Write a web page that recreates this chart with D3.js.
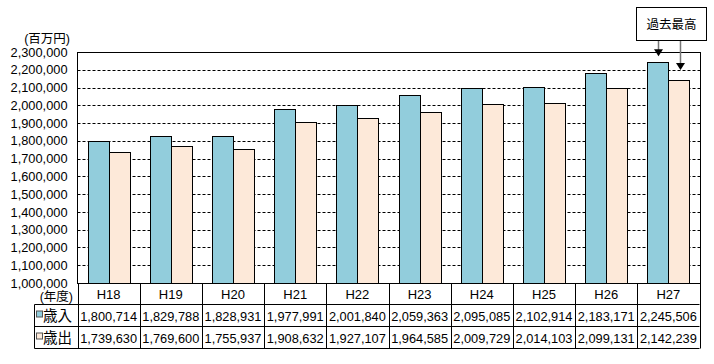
<!DOCTYPE html>
<html><head><meta charset="utf-8">
<script src="https://cdn.jsdelivr.net/npm/d3@7"></script>
<style>
html,body{margin:0;padding:0;background:#fff;}
svg{display:block;}
text{font-family:"Liberation Sans","Noto Sans CJK JP",sans-serif;font-size:12.5px;fill:#000;}
</style></head>
<body><svg id="chart" width="714" height="364"></svg>
<script>
const years = ["H18","H19","H20","H21","H22","H23","H24","H25","H26","H27"];
const revenue = [1800714,1829788,1828931,1977991,2001840,2059363,2095085,2102914,2183171,2245506];
const expenditure = [1739630,1769600,1755937,1908632,1927107,1964585,2009729,2014103,2099131,2142239];
const seriesNames = ["歳入","歳出"];
const seriesColors = ["#92CDDC","#FDE9D9"];
const yTicks = d3.range(1000000, 2300001, 100000);
const unitLabel = "(百万円)";
const yearLabel = "(年度)";
const calloutText = "過去最高";

const svg = d3.select("#chart");
const x = d3.scaleBand().domain(years).range([77.5, 699.5]);
const xs = d3.scaleBand().domain([0,1]).range([10, 52]);
const y = d3.scaleLinear().domain([1000000, 2300000]).range([283, 52]);
const fmt = d3.format(",");
const series = [revenue, expenditure];

// gridlines
svg.append("g").selectAll("line").data(yTicks.filter(t => t > 1000000 && t < 2300000)).join("line")
  .attr("x1", 77.5).attr("x2", 700.5)
  .attr("y1", d => Math.round(y(d)) + 0.5).attr("y2", d => Math.round(y(d)) + 0.5)
  .attr("stroke", "#000").attr("stroke-dasharray", "3,2");

// bars
series.forEach((vals, si) => {
  svg.append("g").selectAll("rect").data(vals).join("rect")
    .attr("x", (d, i) => Math.round(x(years[i]) + xs(si)) + 0.5)
    .attr("width", xs.bandwidth())
    .attr("y", d => Math.round(y(d)) + 0.5)
    .attr("height", d => Math.round(y(1000000)) - Math.round(y(d)))
    .attr("fill", seriesColors[si]).attr("stroke", "#000").attr("stroke-width", 1);
});

// frame
svg.append("rect").attr("x", 77.5).attr("y", Math.round(y(2300000)) + 0.5)
  .attr("width", 623).attr("height", Math.round(y(1000000)) - Math.round(y(2300000)))
  .attr("fill", "none").attr("stroke", "#000");

// y axis labels
const ax = svg.append("g").attr("transform", "translate(77.5,0)")
  .call(d3.axisLeft(y).tickValues(yTicks).tickSize(0).tickPadding(10).tickFormat(fmt));
ax.select(".domain").remove();
ax.selectAll("text").style("font-family", "Liberation Sans, sans-serif").style("font-size", "12.8px").attr("fill", "#000");

svg.append("text").attr("x", 70).attr("y", 43).attr("text-anchor", "end").style("font-size", "12.5px").text(unitLabel);

// table
const rowY = [283.5, 304.5, 326.5, 348.5];
const tbl = svg.append("g");
tbl.selectAll("line.h").data(rowY.slice(1)).join("line")
  .attr("x1", 34.5).attr("x2", 699.5).attr("y1", d => d).attr("y2", d => d).attr("stroke", "#000");
tbl.append("line").attr("x1", 34.5).attr("x2", 34.5).attr("y1", 304.5).attr("y2", 348.5).attr("stroke", "#000");
const bounds = years.map(yr => x(yr)).concat([x.range()[1]]);
tbl.selectAll("line.v").data(bounds).join("line")
  .attr("x1", d => Math.round(d) + 0.5).attr("x2", d => Math.round(d) + 0.5)
  .attr("y1", 283).attr("y2", 348.5).attr("stroke", "#000");

tbl.selectAll("text.yr").data(years).join("text")
  .attr("x", d => x(d) + x.bandwidth() / 2).attr("y", 299).attr("text-anchor", "middle").style("font-size", "13px").text(d => d);
tbl.append("text").attr("x", 73).attr("y", 301).attr("text-anchor", "end").style("font-size", "12.5px").text(yearLabel);

series.forEach((vals, si) => {
  const cy = (rowY[si + 1] + rowY[si + 2]) / 2;
  tbl.selectAll("text.v" + si).data(vals).join("text")
    .attr("x", (d, i) => x(years[i]) + x.bandwidth() / 2).attr("y", cy + 5)
    .attr("text-anchor", "middle").style("font-size", "12.8px").text(d => fmt(d));
  tbl.append("rect").attr("x", 36.5).attr("y", cy - 4.5).attr("width", 6).attr("height", 6)
    .attr("fill", seriesColors[si]).attr("stroke", "#555");
  tbl.append("text").attr("x", 43).attr("y", cy + 5.5).style("font-size", "14.5px").text(seriesNames[si]);
});

// callout
const last = years.length - 1;
svg.append("rect").attr("x", 636.5).attr("y", 7.5).attr("width", 70).attr("height", 33)
  .attr("fill", "#fff").attr("stroke", "#000");
svg.append("text").attr("x", 671.5).attr("y", 28.5).attr("text-anchor", "middle").style("font-size", "12.5px").text(calloutText);
const arrows = [
  {cx: x(years[last]) + xs(0) + xs.bandwidth() / 2, tip: y(revenue[last]) - 5.5},
  {cx: x(years[last]) + xs(1) + xs.bandwidth() / 2 + 1.5, tip: y(expenditure[last]) - 10}
];
arrows.forEach(a => {
  const cx = Math.round(a.cx) + 0.5;
  svg.append("line").attr("x1", cx).attr("x2", cx).attr("y1", 41).attr("y2", a.tip - 6)
    .attr("stroke", "#777").attr("stroke-width", 1.5);
  svg.append("path").attr("d", `M${cx - 4.5},${a.tip - 7}L${cx + 4.5},${a.tip - 7}L${cx},${a.tip}Z`).attr("fill", "#000");
});
</script></body></html>
